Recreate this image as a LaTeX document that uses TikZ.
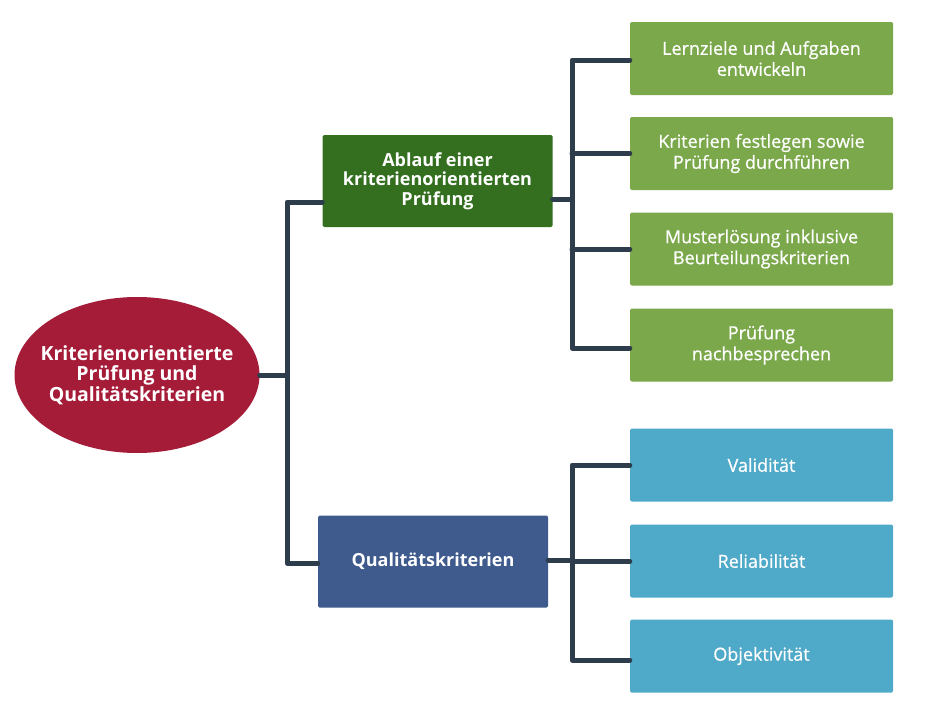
\documentclass[tikz,border=0pt]{standalone}
\usepackage{fontspec}
\setmainfont{Open Sans}
\usetikzlibrary{shapes.geometric}
\definecolor{rootc}{HTML}{A51C38}
\definecolor{dgreen}{HTML}{336F1F}
\definecolor{lgreen}{HTML}{7BA84B}
\definecolor{dblue}{HTML}{3F5A8D}
\definecolor{lblue}{HTML}{4FA9C8}
\definecolor{linec}{HTML}{2E3D4B}
\tikzset{
  px/.style={x=1pt,y=-1pt},
  conn/.style={draw=linec,line width=5pt,line join=round,line cap=round},
  rootnode/.style={ellipse,fill=rootc,minimum width=245pt,minimum height=156pt,inner sep=0pt},
  roottext/.style={inner sep=0pt,text=white,align=center,font=\fontsize{19.5}{20.5}\selectfont\bfseries},
  midnode/.style={rectangle,rounded corners=1.5pt,minimum width=230pt,minimum height=92pt,inner sep=0pt,text=white,align=center,font=\fontsize{18}{19.5}\selectfont\bfseries},
  leafnode/.style={rectangle,rounded corners=1.5pt,minimum width=263pt,minimum height=73pt,inner sep=0pt,text=white,align=center,font=\fontsize{18}{21}\selectfont\addfontfeature{FakeBold=0.7}},
}
\begin{document}
\begin{tikzpicture}[px]
\useasboundingbox (0,0) rectangle (930,704);
\node[rootnode] (root) at (137,375) {};
\node[roottext] (rootlabel) at (root.center) {Kriterienorientierte\\Prüfung und\\Qualitätskriterien};
\node[midnode,fill=dgreen] (ab) at (437.5,181) {Ablauf einer\\kriterienorientierten\\Prüfung};
\node[midnode,fill=dblue] (qk) at (433,561.5) {Qualitätskriterien};
\node[leafnode,fill=lgreen] (g1) at (761.5,58.5) {Lernziele und Aufgaben\\entwickeln};
\node[leafnode,fill=lgreen] (g2) at (761.5,153.5) {Kriterien festlegen sowie\\Prüfung durchführen};
\node[leafnode,fill=lgreen] (g3) at (761.5,249) {Musterlösung inklusive\\Beurteilungskriterien};
\node[leafnode,fill=lgreen] (g4) at (761.5,345) {Prüfung\\nachbesprechen};
\node[leafnode,fill=lblue] (b1) at (761.5,465) {Validität};
\node[leafnode,fill=lblue] (b2) at (761.5,561) {Reliabilität};
\node[leafnode,fill=lblue] (b3) at (761.5,656) {Objektivität};
% trunks
\coordinate (lt) at (287,202);
\coordinate (lb) at (287,563);
\coordinate (gt) at (572,60);
\coordinate (gb) at (572,348);
\coordinate (bt) at (572,465);
\coordinate (bb) at (572,660);
\draw[conn] (ab.west |- lt) -- (lt) -- (lb) -- (qk.west |- lb);
\draw[conn] (root.east) -- (root.east -| lt);
\draw[conn] (g1.west |- gt) -- (gt) -- (gb) -- (g4.west |- gb);
\draw[conn] (g2.west) -- (g2.west -| gt);
\draw[conn] (g3.west) -- (g3.west -| gt);
\draw[conn] (ab.east |- 0,199) -- (gt |- 0,199);
\draw[conn] (b1.west |- bt) -- (bt) -- (bb) -- (b3.west |- bb);
\draw[conn] (b2.west) -- (b2.west -| bt);
\draw[conn] (qk.east |- 0,560) -- (bt |- 0,560);
\end{tikzpicture}
\end{document}
